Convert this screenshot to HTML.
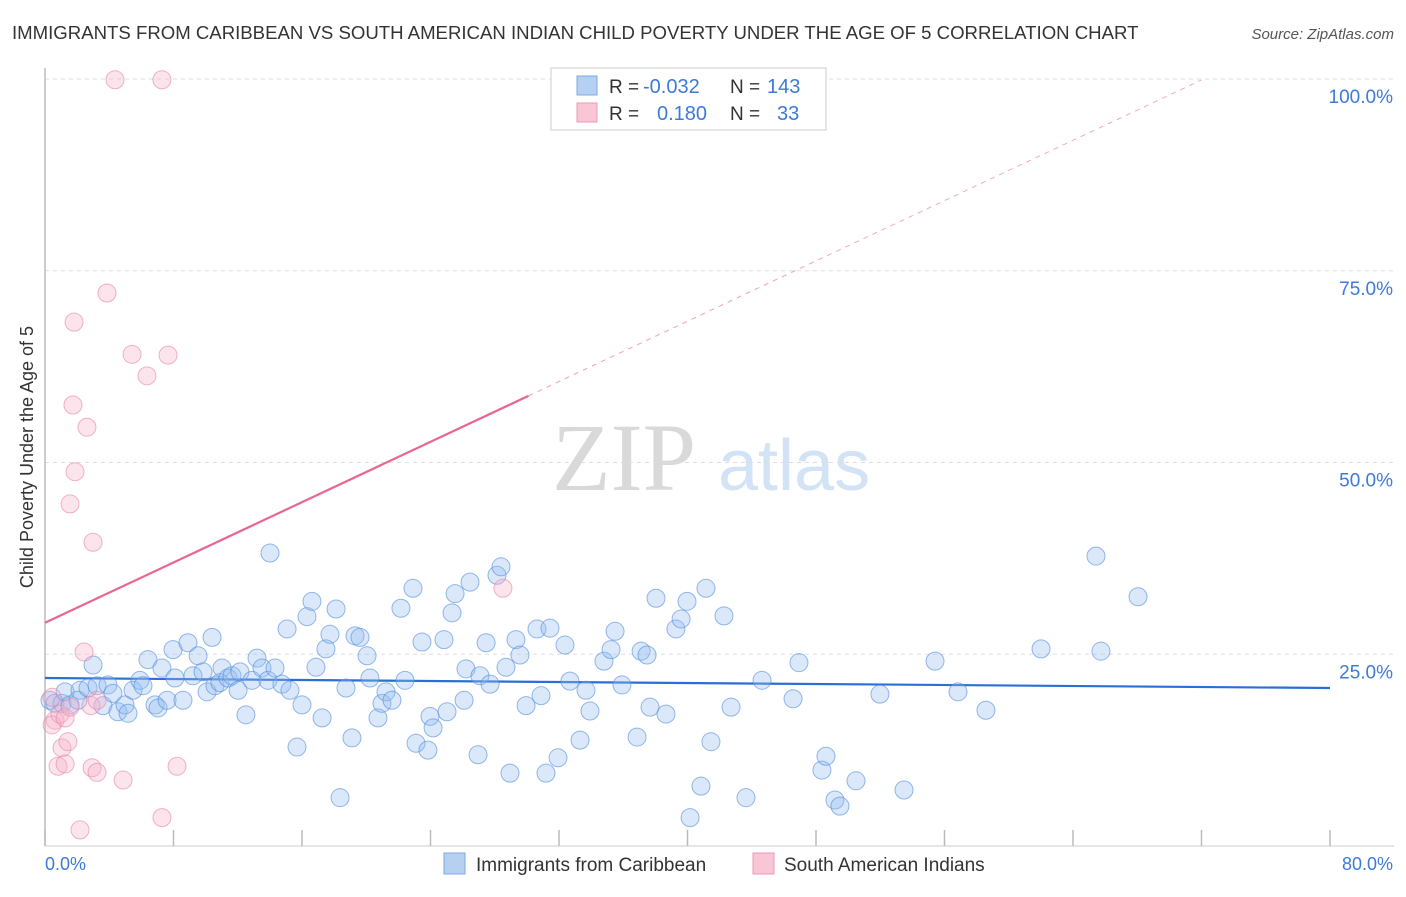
<!DOCTYPE html>
<html><head><meta charset="utf-8"><style>
body{margin:0;background:#fff;font-family:"Liberation Sans",sans-serif;}
svg text{font-family:"Liberation Sans",sans-serif;}
</style></head><body>
<svg id="chart" width="1406" height="892" xmlns="http://www.w3.org/2000/svg">
<text x="12" y="39" font-size="18.6" fill="#333">IMMIGRANTS FROM CARIBBEAN VS SOUTH AMERICAN INDIAN CHILD POVERTY UNDER THE AGE OF 5 CORRELATION CHART</text>
<text x="1394" y="39" font-size="15" fill="#555" font-style="italic" text-anchor="end">Source: ZipAtlas.com</text>
<g>
<text x="552" y="490" font-size="96" fill="#d9d9d9" style="font-family:'Liberation Serif',serif">ZIP</text>
<text x="718" y="490" font-size="72" fill="#d3e3f6">atlas</text>
</g>
<g id="grid"></g>
<g id="axes"></g>
<g id="lines"></g>
<g id="pts"></g>
<g>
<rect x="551" y="68" width="275" height="62" fill="#fff" stroke="#ddd" stroke-width="1.5"/>
<rect x="577" y="76" width="20" height="19" fill="#b6d0f2" stroke="#7fa9e3"/>
<rect x="577" y="103" width="20" height="19" fill="#f8c6d5" stroke="#eb9ab4"/>
<text x="609" y="93" font-size="19" fill="#333">R =</text>
<text x="643" y="93" font-size="20" fill="#3d7bd6">-0.032</text>
<text x="730" y="93" font-size="19" fill="#333">N =</text>
<text x="767" y="93" font-size="20" fill="#3d7bd6">143</text>
<text x="609" y="120" font-size="19" fill="#333">R =</text>
<text x="657" y="120" font-size="20" fill="#3d7bd6">0.180</text>
<text x="730" y="120" font-size="19" fill="#333">N =</text>
<text x="777" y="120" font-size="20" fill="#3d7bd6">33</text>
</g>
<g>
<rect x="444" y="853" width="21" height="21" fill="#b6d0f2" stroke="#7fa9e3"/>
<text x="476" y="871" font-size="19" fill="#333">Immigrants from Caribbean</text>
<rect x="753" y="853" width="21" height="21" fill="#f8c6d5" stroke="#eb9ab4"/>
<text x="784" y="871" font-size="19" fill="#333">South American Indians</text>
</g>
</svg>
<script>
const blueX=[0.31,0.62,1.06,1.25,1.56,2.18,2.05,2.68,2.99,3.24,3.61,3.92,4.23,4.54,4.98,5.17,5.48,5.91,6.10,6.41,6.85,7.04,7.28,7.60,8.09,7.97,8.59,8.90,9.21,9.53,9.84,10.09,10.40,10.58,10.89,11.02,11.39,11.64,12.02,12.14,12.51,12.89,13.20,13.51,13.88,14.01,14.32,14.75,15.07,15.25,15.69,16.0,16.31,16.62,16.87,17.25,17.49,17.74,18.12,18.37,18.74,19.11,19.30,19.61,20.05,20.23,20.73,20.98,21.23,21.60,22.16,22.41,22.91,23.10,23.47,23.84,23.97,24.16,24.84,25.03,25.34,25.53,26.09,26.21,26.46,26.96,27.08,27.46,27.71,28.14,28.39,28.70,28.95,29.32,29.57,29.95,30.63,30.88,31.19,31.44,31.94,32.37,32.68,33.31,33.68,33.93,34.80,35.24,35.49,35.92,36.86,37.11,37.48,37.67,38.04,38.66,39.28,39.60,39.97,40.16,40.84,41.15,41.46,42.27,42.71,43.64,44.64,46.57,46.94,48.37,48.62,49.18,49.49,50.49,51.98,53.48,55.41,56.84,58.58,62.01,65.43,65.74,68.05];
const blueY=[19.0,18.6,18.6,20.1,18.4,20.3,19.0,20.6,23.6,20.9,18.3,21.0,19.9,17.5,18.4,17.3,20.3,21.6,20.9,24.3,18.4,18.0,23.2,19.0,21.9,25.6,19.0,26.5,22.2,24.8,22.7,20.1,27.2,20.9,21.3,23.2,21.9,22.2,20.3,22.7,17.1,21.6,24.5,23.2,21.6,38.2,23.2,21.1,28.3,20.3,12.9,18.4,29.9,31.9,23.3,16.7,25.7,27.6,30.9,6.3,20.6,14.1,27.4,27.2,24.8,21.9,16.7,18.6,20.1,19.0,31.0,21.6,33.6,13.4,26.6,12.5,16.9,15.4,26.9,17.5,30.4,32.9,19.0,23.1,34.4,11.9,22.2,26.5,21.1,35.3,36.4,23.3,9.5,26.9,24.9,18.3,28.3,19.6,9.5,28.4,11.5,26.2,21.5,13.8,20.3,17.6,24.1,25.6,28.0,21.0,14.2,25.4,24.9,18.1,32.3,17.2,28.3,29.6,31.9,3.7,7.8,33.6,13.6,30.0,18.1,6.3,21.6,19.2,23.9,9.9,11.7,6.0,5.2,8.5,19.8,7.3,24.1,20.1,17.7,25.7,37.8,25.4,32.5];
const pinkX=[0.44,0.62,0.44,0.93,1.25,0.81,1.06,1.43,1.25,1.56,1.87,1.74,1.81,1.56,2.61,2.99,2.43,2.93,3.24,2.86,3.24,3.86,4.36,4.86,5.42,6.35,7.28,7.66,8.22,7.28,2.18,28.51];
const pinkY=[19.4,16.4,15.8,17.2,16.7,10.4,12.8,13.6,10.7,18.1,48.8,57.5,68.3,44.6,54.6,39.6,25.3,10.2,9.6,18.3,19.0,72.1,99.9,8.6,64.1,61.3,99.9,64.0,10.4,3.7,2.1,33.6];
const yTicks=[25,50,75,100];
const yTickLabels=["25.0%","50.0%","75.0%","100.0%"];
const xTicks=[0,8,16,24,32,40,48,56,64,72,80];
const blueTrend=[21.9,20.6];
const pinkTrend=[29.1,0.983];
const X0=45,X1=1330,Y0=846,Y100=79;
const sx=v=>X0+(X1-X0)*v/80;
const sy=v=>Y0-(Y0-Y100)*v/100;
const NS="http://www.w3.org/2000/svg";
function mk(tag,attrs,parent){const e=document.createElementNS(NS,tag);for(const k in attrs)e.setAttribute(k,attrs[k]);parent.appendChild(e);return e;}
const grid=document.getElementById('grid'),axes=document.getElementById('axes'),lines=document.getElementById('lines'),pts=document.getElementById('pts');
yTicks.forEach((t,i)=>{
 const g=mk('line',{x1:X0,x2:1394,y1:sy(t),y2:sy(t),stroke:'#ddd','stroke-dasharray':'4,4'},grid);
 
 
 const tx=mk('text',{x:1393,y:sy(t)+24,'font-size':19,fill:'#3d7bd6','text-anchor':'end'},axes);
 tx.textContent=yTickLabels[i];
 
 
});
const ya=mk('line',{x1:X0,x2:X0,y1:68,y2:Y0,stroke:'#bbb','stroke-width':1.5},axes);


const xa=mk('line',{x1:X0,x2:1394,y1:Y0,y2:Y0,stroke:'#ccc','stroke-width':1},axes);


xTicks.forEach(t=>{
 const l=mk('line',{x1:sx(t),x2:sx(t),y1:830,y2:Y0,stroke:'#bbb','stroke-width':1.5},axes);
 
 
});
const xl0=mk('text',{x:45,y:870,'font-size':18,fill:'#3d7bd6'},axes);xl0.textContent='0.0%';


const xl1=mk('text',{x:1393,y:870,'font-size':18,fill:'#3d7bd6','text-anchor':'end'},axes);xl1.textContent='80.0%';


const yt=mk('text',{x:0,y:0,'font-size':18,fill:'#333','text-anchor':'middle',transform:'translate(33,457) rotate(-90)'},axes);yt.textContent='Child Poverty Under the Age of 5';


blueX.forEach((x,i)=>{
 const c=mk('circle',{cx:sx(x),cy:sy(blueY[i]),r:9,fill:'rgba(150,190,240,0.35)',stroke:'rgba(80,140,220,0.6)','stroke-width':1},pts);
 
 
});
pinkX.forEach((x,i)=>{
 const c=mk('circle',{cx:sx(x),cy:sy(pinkY[i]),r:9,fill:'rgba(246,178,200,0.35)',stroke:'rgba(232,130,165,0.6)','stroke-width':1},pts);
 
 
});
const bl=mk('line',{x1:sx(0),y1:sy(blueTrend[0]),x2:sx(80),y2:sy(blueTrend[1]),stroke:'#2a6fd6','stroke-width':2.2},lines);


const pEnd=30.1,pDash=72;
const ps=mk('line',{x1:sx(0),y1:sy(pinkTrend[0]),x2:sx(pEnd),y2:sy(pinkTrend[0]+pinkTrend[1]*pEnd),stroke:'#e8668f','stroke-width':2.2},lines);


const pd=mk('line',{x1:sx(pEnd),y1:sy(pinkTrend[0]+pinkTrend[1]*pEnd),x2:sx(pDash),y2:sy(pinkTrend[0]+pinkTrend[1]*pDash),stroke:'#f0a7bd','stroke-width':1,'stroke-dasharray':'5,5'},lines);


</script>
</body></html>
